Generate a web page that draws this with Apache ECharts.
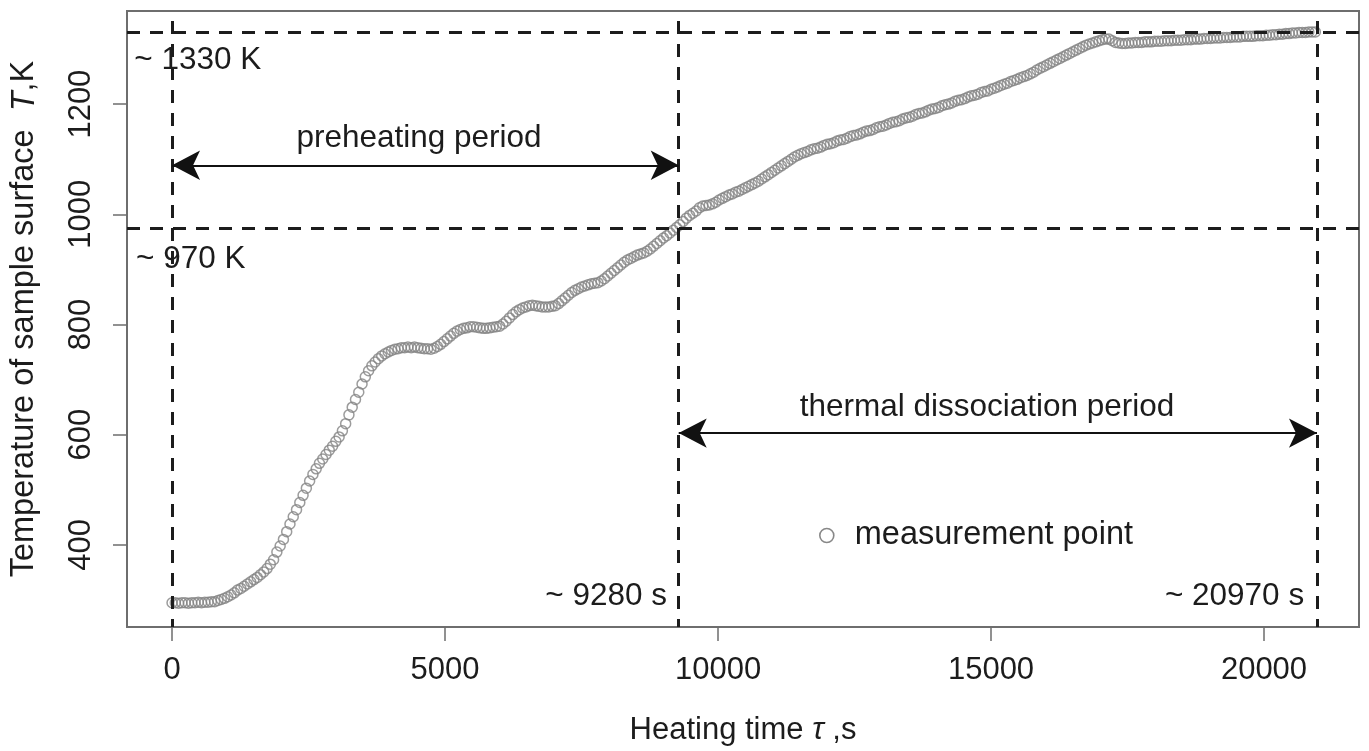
<!DOCTYPE html>
<html><head><meta charset="utf-8">
<script src="https://cdn.jsdelivr.net/npm/echarts@6/dist/echarts.min.js"></script>
<style>html,body{margin:0;padding:0;background:#fff}#c{width:1369px;height:751px}</style>
</head><body><div id="c"></div>
<script>
// ---- data ----
const tickTimes = [0, 5000, 10000, 15000, 20000];
const tickTemps = [400, 600, 800, 1000, 1200];
const sampleInterval = 60; // s between measurement points
const tempK = [
  295,295,294,295,295,294,295,295,296,295,
  296,296,297,297,299,301,303,306,309,313,
  318,321,325,329,333,337,341,346,351,357,
  365,373,387,398,410,424,438,451,464,477,
  490,503,516,528,538,548,556,564,572,579,
  588,596,607,620,636,650,664,677,692,705,
  716,725,732,738,743,747,750,753,755,756,
  758,758,759,758,759,758,757,756,756,755,
  757,760,764,769,774,779,784,788,791,793,
  794,796,796,795,794,793,793,794,795,796,
  797,801,806,812,818,823,827,830,832,834,
  835,834,833,832,832,832,833,834,838,843,
  848,853,858,862,865,868,870,872,874,875,
  876,879,883,888,893,898,903,908,913,917,
  920,923,926,928,930,933,937,942,947,952,
  957,961,966,971,976,981,987,993,998,1002,
  1006,1012,1015,1016,1017,1019,1022,1026,1029,1032,
  1035,1037,1040,1042,1045,1048,1051,1054,1057,1060,
  1064,1068,1072,1076,1080,1084,1088,1092,1096,1100,
  1104,1107,1110,1112,1114,1117,1119,1120,1122,1125,
  1127,1128,1130,1133,1135,1136,1138,1141,1143,1144,
  1146,1149,1151,1152,1154,1157,1159,1160,1162,1165,
  1167,1168,1170,1173,1175,1176,1178,1181,1183,1184,
  1186,1189,1191,1192,1194,1197,1199,1200,1202,1205,
  1207,1208,1210,1213,1215,1216,1218,1221,1223,1224,
  1227,1229,1231,1234,1236,1238,1241,1243,1245,1248,
  1250,1252,1255,1258,1262,1265,1268,1271,1274,1277,
  1280,1283,1286,1289,1292,1295,1298,1301,1304,1307,
  1309,1311,1313,1315,1317,1318,1318,1315,1312,1311,
  1310,1310,1311,1311,1312,1312,1312,1313,1313,1313,
  1314,1314,1314,1315,1315,1315,1316,1316,1316,1317,
  1317,1317,1318,1318,1318,1319,1319,1319,1320,1320,
  1320,1321,1321,1321,1322,1322,1322,1323,1323,1323,
  1323,1324,1324,1324,1325,1325,1326,1326,1327,1327,
  1328,1328,1329,1329,1330,1330,1330,1331,1331,1331
];
const refTemps = [1330, 975];          // ~1330 K, ~970 K
const refTimes = [0, 9280, 20970];     // start, ~9280 s, ~20970 s
const refTempLabels = ['~ 1330 K', '~ 970 K'];
const refTimeLabels = ['~ 9280 s', '~ 20970 s'];
const periodLabels = ['preheating period', 'thermal dissociation period'];
const seriesName = 'measurement point';

// ---- chart ----
const FONT = '"Liberation Sans", Arial, Helvetica, sans-serif';
const TXT = '#1c1c1c';
const FS = 31;
const AFS = 31.5;
const points = tempK.map((T, i) => [i * sampleInterval, T]);

const X_MIN = -825, X_MAX = 21740, Y_MIN = 251, Y_MAX = 1369;
const dash = { color: '#1c1c1c', width: 3, type: [13, 10] };

function txt(value, text, align) {
  return {
    value: value,
    label: {
      show: true, formatter: text, position: 'inside',
      align: align, verticalAlign: 'middle',
      fontSize: AFS, color: TXT, fontFamily: FONT,
      textBorderWidth: 0, textBorderColor: 'transparent', opacity: 1
    }
  };
}

const chart = echarts.init(document.getElementById('c'), null, { renderer: 'canvas' });
chart.setOption({
  animation: false,
  backgroundColor: '#ffffff',
  textStyle: { fontFamily: FONT },
  grid: {
    left: 127, right: 10, top: 11, bottom: 118,
    show: true, borderColor: '#6e6e6e', borderWidth: 2, backgroundColor: 'transparent'
  },
  legend: {
    show: true, left: 814, top: 514, orient: 'horizontal',
    itemWidth: 14, itemHeight: 14, itemGap: 10,
    data: [{ name: seriesName, icon: 'circle' }],
    itemStyle: { color: 'transparent', borderColor: '#6a6a6a', borderWidth: 1.6 },
    textStyle: { fontSize: 32.5, color: TXT, fontFamily: FONT, padding: [0, 0, 0, 16] },
    selectedMode: false
  },
  xAxis: {
    type: 'value', min: X_MIN, max: X_MAX,
    axisLine: { show: false, onZero: false },
    splitLine: { show: false },
    axisTick: { show: true, customValues: tickTimes, length: 14, inside: false,
      lineStyle: { color: '#6e6e6e', width: 1.5 } },
    axisLabel: { show: true, customValues: tickTimes, fontSize: FS, color: TXT,
      fontFamily: FONT, margin: 28, formatter: (v) => String(v) },
    name: '{n|Heating time }{i|τ}{n| ,s}',
    nameLocation: 'middle', nameGap: 88,
    nameTextStyle: {
      fontSize: FS, color: TXT, fontFamily: FONT,
      rich: { n: { fontSize: FS, color: TXT, fontFamily: FONT },
              i: { fontSize: FS, color: TXT, fontFamily: FONT, fontStyle: 'italic' } }
    }
  },
  yAxis: {
    type: 'value', min: Y_MIN, max: Y_MAX,
    axisLine: { show: false, onZero: false },
    splitLine: { show: false },
    axisTick: { show: true, customValues: tickTemps, length: 14, inside: false,
      lineStyle: { color: '#6e6e6e', width: 1.5 } },
    axisLabel: { show: true, customValues: tickTemps, fontSize: FS, color: TXT,
      fontFamily: FONT, rotate: 90, margin: 30, formatter: (v) => String(v) },
    name: '{n|Temperature of sample surface  }{i|T}{n|,K}',
    nameLocation: 'middle', nameGap: 86, nameRotate: 90,
    nameTextStyle: {
      fontSize: 32.5, color: TXT, fontFamily: FONT,
      rich: { n: { fontSize: 32.5, color: TXT, fontFamily: FONT },
              i: { fontSize: 32.5, color: TXT, fontFamily: FONT, fontStyle: 'italic' } }
    }
  },
  series: [
    {
      name: seriesName,
      type: 'scatter',
      data: points,
      symbol: 'circle',
      symbolSize: 10,
      itemStyle: { color: 'transparent', borderColor: '#838383', borderWidth: 1.5 },
      emphasis: { disabled: true },
      silent: true,
      z: 2,
      markLine: {
        silent: true, symbol: ['none', 'none'], animation: false,
        label: { show: false },
        lineStyle: dash,
        data: [
          { yAxis: refTemps[0] },
          { yAxis: refTemps[1] },
          [{ coord: [refTimes[0], 1351] }, { coord: [refTimes[0], Y_MIN] }],
          [{ coord: [refTimes[1], 1351] }, { coord: [refTimes[1], Y_MIN] }],
          [{ coord: [refTimes[2], 1351] }, { coord: [refTimes[2], Y_MIN] }]
        ]
      }
    },
    {
      name: 'annotations',
      type: 'scatter',
      symbolSize: 0,
      silent: true,
      z: 5,
      itemStyle: { color: TXT, opacity: 1 },
      data: [
        txt([-690, 1280], refTempLabels[0], 'left'),
        txt([-660, 919], refTempLabels[1], 'left'),
        txt([9066, 307], refTimeLabels[0], 'right'),
        txt([20735, 307], refTimeLabels[1], 'right'),
        txt([4523, 1138], periodLabels[0], 'center'),
        txt([14927, 650], periodLabels[1], 'center')
      ],
      markLine: {
        silent: true, animation: false,
        symbol: ['arrow', 'arrow'], symbolSize: [22, 28],
        label: { show: false },
        lineStyle: { color: '#111', width: 2, type: 'solid' },
        itemStyle: { color: '#111' },
        data: [
          [{ coord: [refTimes[0], 1089] }, { coord: [refTimes[1], 1089] }],
          [{ coord: [refTimes[1], 603] }, { coord: [refTimes[2], 603] }]
        ]
      }
    }
  ]
});
</script></body></html>
